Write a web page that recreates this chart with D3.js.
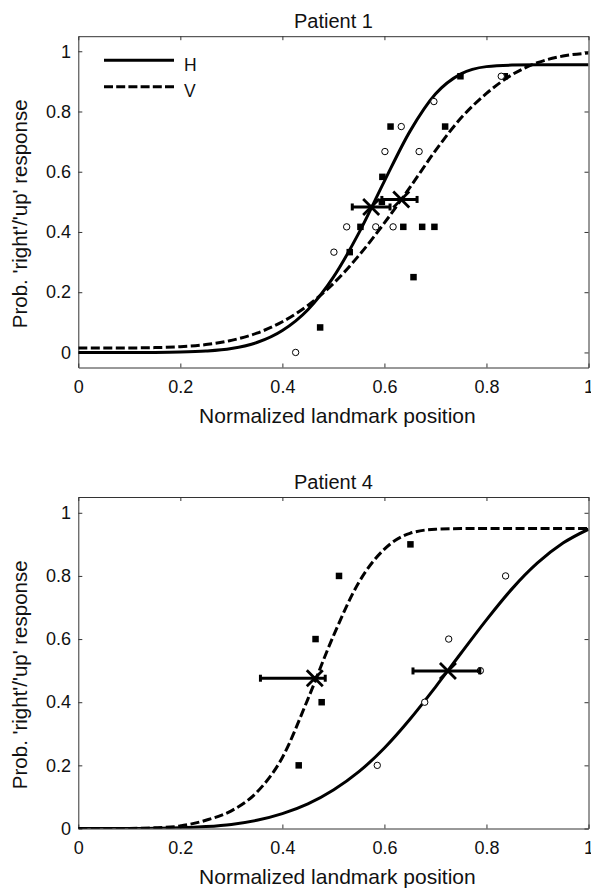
<!DOCTYPE html>
<html>
<head>
<meta charset="utf-8">
<script src="https://cdn.jsdelivr.net/npm/d3@7"></script>
<style>
  body { margin: 0; background: #fff; }
  svg text { font-family: "Liberation Sans", Arial, Helvetica, sans-serif; fill: #111; }
</style>
</head>
<body>
<svg id="chart" width="591" height="890"></svg>
<script>
const curveX = [0, 0.05, 0.1, 0.15, 0.2, 0.25, 0.3, 0.35, 0.4, 0.45, 0.5,
  0.55, 0.6, 0.65, 0.7, 0.75, 0.8, 0.85, 0.9, 0.95, 1];

const tickValues = [0, 0.2, 0.4, 0.6, 0.8, 1];
const tickLabels = ['0', '0.2', '0.4', '0.6', '0.8', '1'];
const titles = ['Patient 1', 'Patient 4'];
const legendLabels = ['H', 'V'];

// Patient 1 fitted curves
const p1CurveH = [0, 0, 0, 0.0002, 0.0012, 0.0045, 0.013, 0.033, 0.073, 0.142, 0.25,
  0.397, 0.569, 0.734, 0.858, 0.925, 0.949, 0.954, 0.955, 0.955, 0.955];
const p1CurveV = [0.015, 0.015, 0.015, 0.016, 0.019, 0.026, 0.04, 0.064, 0.102, 0.156, 0.229,
  0.322, 0.43, 0.548, 0.67, 0.778, 0.86, 0.922, 0.962, 0.984, 0.994];
// Patient 1 data (circles = H, squares = V)
const p1CircleX = [0.426, 0.501, 0.526, 0.583, 0.617, 0.601, 0.633, 0.668, 0.697, 0.829];
const p1CircleY = [0, 0.333, 0.417, 0.417, 0.417, 0.667, 0.75, 0.667, 0.833, 0.917];
const p1SquareX = [0.474, 0.532, 0.553, 0.595, 0.596, 0.612, 0.637, 0.657, 0.674, 0.698, 0.719, 0.749, 0.836];
const p1SquareY = [0.083, 0.333, 0.417, 0.5, 0.583, 0.75, 0.417, 0.25, 0.417, 0.417, 0.75, 0.917, 0.917];
// Patient 1 PSE and intervals [H, V]
const p1PseX = [0.574, 0.633];
const p1PseY = [0.483, 0.508];
const p1CiLow = [0.537, 0.595];
const p1CiHigh = [0.611, 0.664];

// Patient 4 fitted curves
const p4CurveH = [0, 0, 0.0001, 0.0006, 0.002, 0.006, 0.013, 0.026, 0.047, 0.078, 0.122,
  0.18, 0.255, 0.346, 0.448, 0.555, 0.661, 0.759, 0.841, 0.904, 0.948];
const p4CurveV = [0, 0, 0.0002, 0.002, 0.008, 0.026, 0.056, 0.115, 0.225, 0.41, 0.61,
  0.78, 0.885, 0.935, 0.948, 0.95, 0.95, 0.95, 0.95, 0.95, 0.95];
const p4CircleX = [0.586, 0.679, 0.726, 0.788, 0.8375];
const p4CircleY = [0.2, 0.4, 0.6, 0.5, 0.8];
const p4SquareX = [0.432, 0.477, 0.465, 0.511, 0.651];
const p4SquareY = [0.2, 0.4, 0.6, 0.8, 0.9];
const p4PseX = [0.7245, 0.4635];
const p4PseY = [0.499, 0.476];
const p4CiLow = [0.656, 0.357];
const p4CiHigh = [0.787, 0.484];

const panels = [
  { title: titles[0], top: 36.2, bottom: 367.5, yMin: -0.05, legend: true,
    curveH: p1CurveH, curveV: p1CurveV, cx: p1CircleX, cy: p1CircleY, sx: p1SquareX, sy: p1SquareY,
    pseX: p1PseX, pseY: p1PseY, lo: p1CiLow, hi: p1CiHigh },
  { title: titles[1], top: 497, bottom: 828.5, yMin: 0, legend: false,
    curveH: p4CurveH, curveV: p4CurveV, cx: p4CircleX, cy: p4CircleY, sx: p4SquareX, sy: p4SquareY,
    pseX: p4PseX, pseY: p4PseY, lo: p4CiLow, hi: p4CiHigh }
];

const svg = d3.select('#chart');
const left = 78.3, right = 588.5;
const dash = '9,3.5';

panels.forEach((p, k) => drawPanel(p, k));

function drawPanel(p, k) {
  const x = d3.scaleLinear().domain([0, 1]).range([left, right]);
  const y = d3.scaleLinear().domain([p.yMin, 1.05]).range([p.bottom, p.top]);
  const g = svg.append('g');

  g.append('clipPath').attr('id', 'clip' + k)
    .append('rect').attr('x', left).attr('y', p.top).attr('width', right - left).attr('height', p.bottom - p.top);

  // axes, ticks pointing inward on all four sides
  const fmt = (d) => tickLabels[tickValues.indexOf(d)];
  const axes = [
    [d3.axisBottom(x).tickFormat(fmt).tickPadding(12.5), `translate(0,${p.bottom})`],
    [d3.axisLeft(y).tickFormat(fmt).tickPadding(7.3), `translate(${left},0)`],
    [d3.axisTop(x).tickFormat(''), `translate(0,${p.top})`],
    [d3.axisRight(y).tickFormat(''), `translate(${right},0)`]
  ];
  axes.forEach(([ax, tr]) => {
    const a = g.append('g').attr('transform', tr)
      .call(ax.tickValues(tickValues).tickSizeInner(-4).tickSizeOuter(0));
    a.selectAll('path, line').attr('stroke', '#333').attr('stroke-width', 1);
    a.selectAll('text').attr('font-size', 18).attr('fill', '#111')
      .attr('font-family', '"Liberation Sans", Arial, sans-serif');
  });

  // titles and labels
  g.append('text').attr('x', (left + right) / 2).attr('y', p.top - 8)
    .attr('text-anchor', 'middle').attr('font-size', 20).text(p.title);
  g.append('text').attr('x', (left + right) / 2 + 4).attr('y', p.bottom + 55)
    .attr('text-anchor', 'middle').attr('font-size', 21).text('Normalized landmark position');
  const cyl = (p.top + p.bottom) / 2 + 12;
  g.append('text').attr('transform', `translate(27,${cyl}) rotate(-90)`)
    .attr('text-anchor', 'middle').attr('font-size', 20.5).text("Prob. 'right'/'up' response");

  // fitted curves
  const line = d3.line().x((d, i) => x(curveX[i])).y((d) => y(d)).curve(d3.curveMonotoneX);
  const plot = g.append('g').attr('clip-path', `url(#clip${k})`);
  plot.append('path').attr('d', line(p.curveH)).attr('fill', 'none')
    .attr('stroke', '#000').attr('stroke-width', 3);
  plot.append('path').attr('d', line(p.curveV)).attr('fill', 'none')
    .attr('stroke', '#000').attr('stroke-width', 3).attr('stroke-dasharray', dash);

  // data points
  const s = 6.5;
  plot.selectAll('rect.sq').data(p.sx).enter().append('rect').attr('class', 'sq')
    .attr('x', (d) => x(d) - s / 2).attr('y', (d, i) => y(p.sy[i]) - s / 2)
    .attr('width', s).attr('height', s).attr('fill', '#000');
  plot.selectAll('circle').data(p.cx).enter().append('circle')
    .attr('cx', (d) => x(d)).attr('cy', (d, i) => y(p.cy[i])).attr('r', 3.2)
    .attr('fill', '#fff').attr('stroke', '#000').attr('stroke-width', 1);

  // PSE crosses with horizontal intervals
  p.pseX.forEach((px, i) => {
    const yy = y(p.pseY[i]);
    g.append('line').attr('x1', x(p.lo[i])).attr('x2', x(p.hi[i])).attr('y1', yy).attr('y2', yy)
      .attr('stroke', '#000').attr('stroke-width', 3);
    [p.lo[i], p.hi[i]].forEach((e) => {
      g.append('line').attr('x1', x(e)).attr('x2', x(e)).attr('y1', yy - 3.5).attr('y2', yy + 3.5)
        .attr('stroke', '#000').attr('stroke-width', 3);
    });
    const cx = x(px), h = 8;
    g.append('path')
      .attr('d', `M${cx - h},${yy - h}L${cx + h},${yy + h}M${cx - h},${yy + h}L${cx + h},${yy - h}`)
      .attr('stroke', '#000').attr('stroke-width', 2.8).attr('fill', 'none');
  });

  if (p.legend) {
    const lg = g.append('g');
    legendLabels.forEach((lab, i) => {
      const ly = 60.3 + i * 26.4;
      lg.append('line').attr('x1', 104).attr('x2', 174).attr('y1', ly).attr('y2', ly)
        .attr('stroke', '#000').attr('stroke-width', 3)
        .attr('stroke-dasharray', i === 1 ? '9,3.2' : null);
      lg.append('text').attr('x', 184).attr('y', ly + 10.4).attr('font-size', 17.5).text(lab);
    });
  }
}
</script>
</body>
</html>
